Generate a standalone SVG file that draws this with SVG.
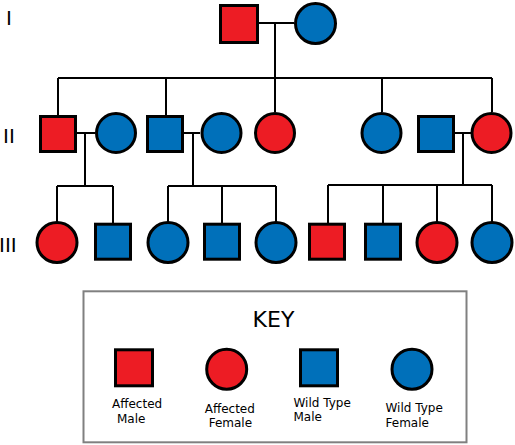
<svg xmlns="http://www.w3.org/2000/svg" width="515" height="445" viewBox="0 0 515 445">
<style>
.a{fill:#ED1C24;stroke:#000;stroke-width:3}
.w{fill:#0070BA;stroke:#000;stroke-width:3}
.ln{stroke:#000;stroke-width:2;fill:none}
.gen{font-family:"DejaVu Sans",sans-serif;font-size:20px;fill:#000}
.lbl{font-family:"DejaVu Sans",sans-serif;font-size:12px;fill:#000}
</style>
<rect width="515" height="445" fill="#fff"/>
<g id="gen-labels">
<text class="gen" x="6" y="25">I</text>
<text class="gen" x="3" y="143">II</text>
<text class="gen" x="-1" y="252">III</text>
</g>
<g id="connectors" class="ln">
<path d="M259 23H294M275 23V78M58 78H492M58 78V115M166 78V115M275 78V112M382 78V112M492 78V112"/>
<path d="M77 133H95M85 133V186M184 133H200M193 133V186M455 133H471M463 133V185"/>
<path d="M57 186H113M57 186V222M113 186V223"/>
<path d="M168 186H276M168 186V222M222 186V223M276 186V222"/>
<path d="M328 185H492M328 185V223M383 185V223M437 185V222M492 185V222"/>
</g>
<g id="I-1"><rect class="a" x="220.5" y="5.5" width="37" height="37"/></g>
<g id="I-2"><circle class="w" cx="315.5" cy="23.5" r="20"/></g>
<g id="II-1"><rect class="a" x="40.5" y="116.5" width="35" height="35"/></g>
<g id="II-2"><circle class="w" cx="116" cy="133" r="19.5"/></g>
<g id="II-3"><rect class="w" x="147.5" y="116.5" width="35" height="35"/></g>
<g id="II-4"><circle class="w" cx="221.5" cy="133" r="19.5"/></g>
<g id="II-5"><circle class="a" cx="275" cy="133" r="19.5"/></g>
<g id="II-6"><circle class="w" cx="381.5" cy="133" r="19.5"/></g>
<g id="II-7"><rect class="w" x="418.5" y="116.5" width="35" height="35"/></g>
<g id="II-8"><circle class="a" cx="491.5" cy="133" r="19.5"/></g>
<g id="III-1"><circle class="a" cx="57" cy="242.5" r="20"/></g>
<g id="III-2"><rect class="w" x="95.5" y="224.2" width="35" height="35"/></g>
<g id="III-3"><circle class="w" cx="168" cy="242.5" r="20"/></g>
<g id="III-4"><rect class="w" x="204.5" y="224.2" width="35" height="35"/></g>
<g id="III-5"><circle class="w" cx="276" cy="242.5" r="20"/></g>
<g id="III-6"><rect class="a" x="309.5" y="224.2" width="35" height="35"/></g>
<g id="III-7"><rect class="w" x="365.5" y="224.2" width="35" height="35"/></g>
<g id="III-8"><circle class="a" cx="437" cy="242.5" r="20"/></g>
<g id="III-9"><circle class="w" cx="492" cy="242.5" r="20"/></g>
<g id="key">
<rect x="83.5" y="291.3" width="383" height="151" fill="#fff" stroke="#808080" stroke-width="2"/>
<text x="273.5" y="327" text-anchor="middle" font-family="DejaVu Sans, sans-serif" font-size="22" fill="#000">KEY</text>
<rect class="a" x="115.5" y="349.8" width="37" height="36"/>
<circle class="a" cx="226.7" cy="369.2" r="20"/>
<rect class="w" x="300.5" y="349.8" width="37" height="36"/>
<circle class="w" cx="412" cy="369.2" r="20"/>
<text class="lbl" x="112" y="408.3">Affected</text>
<text class="lbl" x="117" y="423.3">Male</text>
<text class="lbl" x="204.7" y="413.3">Affected</text>
<text class="lbl" x="208.7" y="427.3">Female</text>
<text class="lbl" x="293.5" y="406.7">Wild Type</text>
<text class="lbl" x="293.5" y="421">Male</text>
<text class="lbl" x="385.5" y="412.3">Wild Type</text>
<text class="lbl" x="385.5" y="426.7">Female</text>
</g>
</svg>
